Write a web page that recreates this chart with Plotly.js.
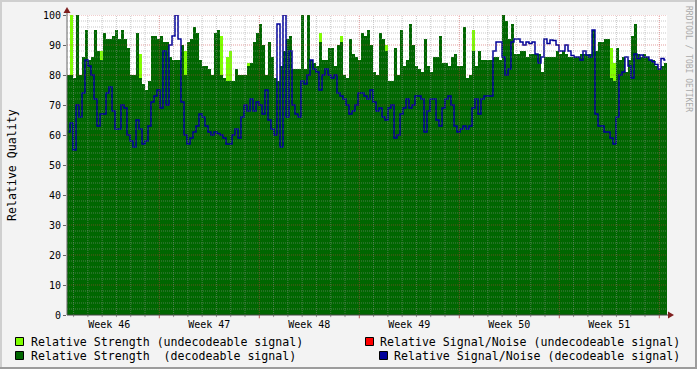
<!DOCTYPE html>
<html><head><meta charset="utf-8">
<script src="https://cdn.plot.ly/plotly-3.0.1.min.js"></script>
<style>html,body{margin:0;padding:0;background:#f3f3f3;overflow:hidden}#chart{width:697px;height:369px}</style>
</head><body><div id="chart"></div>
<script>
// time axis: days since start of Week 46, one consolidated sample every 0.21 day
const startDay = 0.539;
const stepDays = 0.21;

// Relative Strength (decodeable signal)
const strength = [
80,80,79,100,80,86,95,85,86,95,
88,85,94,92,92,93,95,92,95,92,
89,80,80,94,79,77,75,78,93,93,
92,93,91,91,86,85,85,85,90,80,
91,92,96,94,85,83,83,82,80,94,
95,80,79,78,78,78,82,80,80,80,
83,84,91,94,97,90,80,91,86,79,
78,83,88,92,93,82,82,82,100,82,
100,85,84,83,91,85,85,89,89,83,
90,91,80,79,92,87,86,85,94,93,
95,90,81,80,94,92,88,78,78,89,
80,95,83,85,97,90,83,82,81,92,
83,81,86,86,93,84,84,83,86,87,
83,83,96,79,80,88,83,88,85,85,
85,85,86,86,85,100,98,92,97,87,
87,88,88,86,87,87,87,87,81,86,
86,86,86,88,87,88,87,86,86,86,
86,87,87,87,87,95,88,91,91,92,
92,79,78,89,85,86,81,85,93,97,
87,86,87,86,85,85,83,82,83,84
];

// Relative Strength (undecodeable signal), 0 = none
const undecodeable = [
0,100,0,0,0,0,0,0,0,0,
0,88,0,0,0,0,0,0,0,0,
0,0,0,0,87,0,0,0,0,0,
0,0,0,0,0,0,0,0,0,88,
0,0,0,0,0,0,0,0,0,0,
0,93,0,86,88,0,0,0,0,0,
84,0,0,0,0,0,0,0,0,0,
0,0,0,0,0,0,0,0,0,0,
0,0,0,0,94,0,0,0,0,0,
0,93,0,0,0,0,0,0,0,0,
0,0,0,0,0,0,90,0,0,0,
0,0,0,0,0,0,0,0,0,0,
0,0,0,0,0,0,0,0,0,0,
0,0,0,0,0,95,0,0,0,0,
0,0,0,0,0,0,0,0,0,0,
0,0,0,0,0,0,0,0,0,0,
0,0,0,0,0,0,0,0,0,0,
0,0,0,0,0,0,0,0,0,0,
0,89,84,0,0,0,0,0,0,0,
0,0,0,0,0,0,0,0,0,0
];

// Relative Signal/Noise (decodeable signal)
const snr = [
61,64,55,70,66,74,85,83,80,72,
63,67,67,74,76,68,62,62,70,69,
60,58,56,65,62,57,58,63,71,73,
75,69,88,70,90,93,100,92,71,60,
57,59,61,63,67,66,63,61,60,61,
60.5,60,59,57,57,60,62,59,66,70,
68,72,68,71,70,67,75,65,62,60,
97,56,100,66,88,70,67,66,78,77,
80,85,82,81,75,80,82,80,79,80,
74,73,72,70,67,68,70,74,74,73,
72,75,71,68,69,66,65,69,70,59,
60,67,69,72,69,70,73,73,72,61,
68,72,72,65,63,69,72,73,70,63,
61,62,63,62,63,69,72,67,72,73,
73,73,88,91,91,86,80,82,91,92,
92,91,90,91,90.5,91,87,84,86,92,
90.5,91.7,91.5,90,88,88,90,88,86.5,86,
86,85,88,86.7,86,95,67,63,63,61,
61,59,57,66,80,81,86,83,79,87,
85.5,86.7,86,86,85,84.4,83.5,82,85.5,85
];

const weekLabels = ['Week 46','Week 47','Week 48','Week 49','Week 50','Week 51'];
const weekCentres = [3.5,10.5,17.5,24.5,31.5,38.5];
const yTicks = [0,10,20,30,40,50,60,70,80,90,100];

const legendItems = [
  {text:'Relative Strength (undecodeable signal)', color:'#7fff00'},
  {text:'Relative Strength\u00a0 (decodeable signal)', color:'#006600'},
  {text:'Relative Signal/Noise (undecodeable signal)', color:'#ff0000'},
  {text:'Relative Signal/Noise (decodeable signal)', color:'#000099'}
];

const times = strength.map((_, i) => startDay + stepDays * (i + 0.5));
const xMin = startDay, xMax = startDay + stepDays * strength.length;

// pixel helpers for decorations (plot area: x 67..667, y 15..315)
const PL = 67, PW = 600, PT = 15, PH = 300;
const px = v => (v - PL) / PW;
const py = v => (PT + PH - v) / PH;

const mono = 'DejaVu Sans Mono, monospace';
const shapes = [];
// grid
for (let v = 2; v <= 100; v += 2) {
  const major = v % 10 === 0;
  shapes.push({type:'line', xref:'paper', yref:'y', x0:0, x1:1, y0:v, y1:v, layer:'above',
    line:{color: major ? 'rgba(200,60,60,0.5)' : 'rgba(150,150,150,0.5)', width:1, dash:'1px,1px'}});
}
for (let d = 1; d <= 42; d++) {
  if (d < xMin || d > xMax) continue;
  const major = d % 7 === 0;
  shapes.push({type:'line', xref:'x', yref:'paper', x0:d, x1:d, y0:0, y1:1, layer:'above',
    line:{color: major ? 'rgba(200,60,60,0.5)' : 'rgba(150,150,150,0.5)', width:1, dash:'1px,1px'}});
  shapes.push({type:'line', xref:'x', yref:'paper', x0:d, x1:d, y0:0, y1: major ? -0.011 : -0.007, layer:'above',
    line:{color: major ? '#c06060' : '#999999', width:1}});
}
// axes
shapes.push({type:'line', xref:'paper', yref:'paper', x0:0, x1:px(670), y0:0, y1:0, layer:'above', line:{color:'#444', width:1}});
shapes.push({type:'line', xref:'paper', yref:'paper', x0:0, x1:0, y0:0, y1:py(10), layer:'above', line:{color:'#666', width:1}});
// arrows
shapes.push({type:'path', xref:'paper', yref:'paper', layer:'above', line:{width:0}, fillcolor:'#7f1f1f',
  path:`M ${px(63.5)},${py(13)} L ${px(70.5)},${py(13)} L ${px(67)},${py(7)} Z`});
shapes.push({type:'path', xref:'paper', yref:'paper', layer:'above', line:{width:0}, fillcolor:'#7f1f1f',
  path:`M ${px(668)},${py(311.5)} L ${px(668)},${py(318.5)} L ${px(674)},${py(315)} Z`});
// frame shading
shapes.push({type:'rect', xref:'paper', yref:'paper', x0:px(0), x1:px(697), y0:py(0), y1:py(2), line:{width:0}, fillcolor:'#cfcfcf'});
shapes.push({type:'rect', xref:'paper', yref:'paper', x0:px(0), x1:px(2), y0:py(0), y1:py(369), line:{width:0}, fillcolor:'#cfcfcf'});
shapes.push({type:'rect', xref:'paper', yref:'paper', x0:px(695), x1:px(697), y0:py(0), y1:py(369), line:{width:0}, fillcolor:'#9c9c9c'});
shapes.push({type:'rect', xref:'paper', yref:'paper', x0:px(0), x1:px(697), y0:py(367), y1:py(369), line:{width:0}, fillcolor:'#9c9c9c'});

// legend swatches and texts
const legendPos = [
  {sx:15, sy:337, tx:30, anchor:'left'},
  {sx:15, sy:351, tx:30, anchor:'left'},
  {sx:365, sy:337, tx:681, anchor:'right'},
  {sx:379, sy:351, tx:681, anchor:'right'}
];
const annotations = [];
legendItems.forEach((it, k) => {
  const p = legendPos[k];
  shapes.push({type:'rect', xref:'paper', yref:'paper', x0:px(p.sx + 0.5), x1:px(p.sx + 8.5), y0:py(p.sy + 0.5), y1:py(p.sy + 8.5),
    line:{color:'#000', width:1}, fillcolor:it.color});
  annotations.push({xref:'paper', yref:'paper', x:px(p.tx), y:py(p.sy + 4.5), xanchor:p.anchor, yanchor:'middle',
    text:it.text, showarrow:false, borderpad:0, font:{family:mono, size:11.6, color:'#000'}});
});
annotations.push({xref:'paper', yref:'paper', x:px(12), y:0.5, xanchor:'center', yanchor:'middle', textangle:-90,
  text:'Relative Quality', showarrow:false, font:{family:mono, size:11.6, color:'#000'}});
annotations.push({xref:'paper', yref:'paper', x:px(688), y:py(59), xanchor:'center', yanchor:'middle', textangle:90,
  text:'RRDTOOL / TOBI OETIKER', showarrow:false, font:{family:mono, size:8, color:'#aaaaaa'}});

const traces = [
  {type:'bar', x:times, y:undecodeable, width:stepDays, marker:{color:'#7fff00', line:{width:0}}, hoverinfo:'skip'},
  {type:'bar', x:times, y:strength, width:stepDays, marker:{color:'#006600', line:{width:0}}, hoverinfo:'skip'},
  {type:'scatter', mode:'lines', x:times, y:snr, line:{color:'#000099', width:1.5, shape:'hvh'}, hoverinfo:'skip'}
];

const layout = {
  width:697, height:369,
  margin:{l:67, r:30, t:15, b:54, pad:0},
  paper_bgcolor:'#f3f3f3', plot_bgcolor:'#ffffff',
  barmode:'overlay', bargap:0, showlegend:false,
  xaxis:{range:[xMin, xMax], tickvals:weekCentres, ticktext:weekLabels, ticks:'', showgrid:false, zeroline:false,
    showline:false, ticklabelstandoff:2, tickfont:{family:mono, size:10, color:'#000'}, fixedrange:true},
  yaxis:{range:[0,100], tickvals:yTicks, ticks:'outside', ticklen:3, tickcolor:'#666', showgrid:false, zeroline:false,
    showline:false, tickfont:{family:mono, size:10, color:'#000'}, fixedrange:true},
  shapes:shapes, annotations:annotations
};

Plotly.newPlot('chart', traces, layout, {staticPlot:true, displayModeBar:false});
</script></body></html>
